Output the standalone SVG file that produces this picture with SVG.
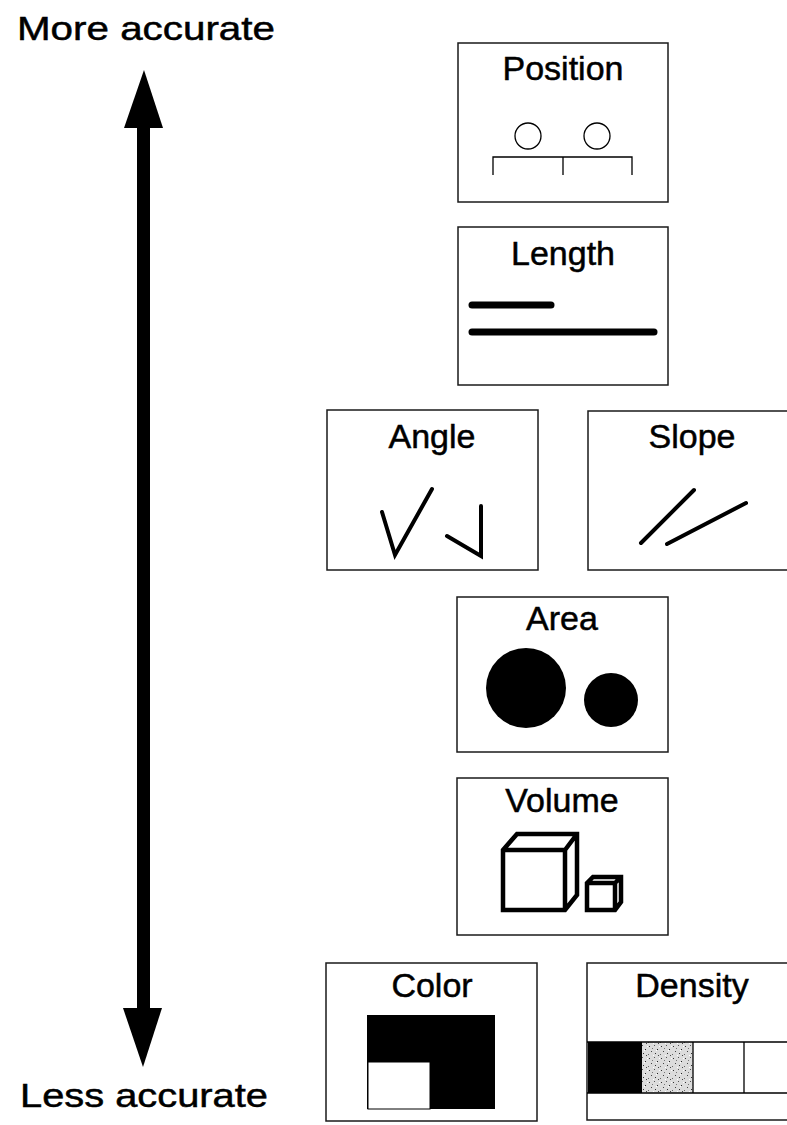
<svg xmlns="http://www.w3.org/2000/svg" width="787" height="1125" viewBox="0 0 787 1125">
<style>
.box{fill:#fff;stroke:#1a1a1a;stroke-width:1.5}
.lbl{font-family:"Liberation Sans",Arial,sans-serif;font-size:34px;fill:#000;stroke:#000;stroke-width:0.5;text-anchor:middle}
.side{font-family:"Liberation Sans",Arial,sans-serif;font-size:34px;fill:#000;stroke:#000;stroke-width:0.5}
.thin{fill:none;stroke:#000;stroke-width:1.3}
.ln{fill:none;stroke:#000;stroke-width:4;stroke-linecap:round;stroke-linejoin:miter}
.cube{fill:#fff;stroke:#000;stroke-width:4.5;stroke-linejoin:miter}
</style>
<defs>
<pattern id="stip" width="12" height="12" patternUnits="userSpaceOnUse">
<rect width="12" height="12" fill="#dcdcdc"/>
<rect x="1" y="2" width="1" height="1" fill="#333"/>
<rect x="6" y="1" width="1" height="1" fill="#555"/>
<rect x="9" y="5" width="1" height="1" fill="#222"/>
<rect x="3" y="7" width="1" height="1" fill="#444"/>
<rect x="7" y="9" width="1" height="1" fill="#333"/>
<rect x="0" y="10" width="1" height="1" fill="#666"/>
<rect x="10" y="11" width="1" height="1" fill="#444"/>
<rect x="4" y="4" width="1" height="1" fill="#777"/>
<rect x="11" y="2" width="1" height="1" fill="#fff"/>
<rect x="5" y="11" width="1" height="1" fill="#fff"/>
<rect x="8" y="6" width="1" height="1" fill="#fff"/>
</pattern>
</defs>
<rect width="787" height="1125" fill="#fff"/>

<g id="scale">
<text class="side" x="17" y="40" textLength="258" lengthAdjust="spacingAndGlyphs">More accurate</text>
<text class="side" x="20" y="1107" textLength="248" lengthAdjust="spacingAndGlyphs">Less accurate</text>
</g>

<g id="connectors">
<rect x="137" y="126" width="13" height="884" fill="#000"/>
<polygon points="144,70 124,128 163,128" fill="#000"/>
<polygon points="143,1067 123,1008 162,1008" fill="#000"/>
</g>

<g id="position">
<rect class="box" x="458" y="43" width="210" height="159"/>
<text class="lbl" x="563" y="80">Position</text>
<circle class="thin" cx="528" cy="136" r="13"/>
<circle class="thin" cx="597" cy="136" r="13"/>
<path class="thin" d="M493,175 V157 H632 V175 M563,157 V175"/>
</g>

<g id="length">
<rect class="box" x="458" y="227" width="210" height="158"/>
<text class="lbl" x="563" y="265">Length</text>
<line x1="472" y1="305" x2="551" y2="305" stroke="#000" stroke-width="7" stroke-linecap="round"/>
<line x1="472" y1="332" x2="654" y2="332" stroke="#000" stroke-width="7" stroke-linecap="round"/>
</g>

<g id="angle">
<rect class="box" x="327" y="410" width="211" height="160"/>
<text class="lbl" x="432" y="448">Angle</text>
<polyline class="ln" points="382,512 395,555 432,489"/>
<polyline class="ln" points="447,536 481,556 481,506"/>
</g>

<g id="slope">
<rect class="box" x="588" y="411" width="210" height="159"/>
<text class="lbl" x="692" y="448">Slope</text>
<line class="ln" x1="641" y1="543" x2="694" y2="490"/>
<line class="ln" x1="667" y1="544" x2="746" y2="503"/>
</g>

<g id="area">
<rect class="box" x="457" y="597" width="211" height="155"/>
<text class="lbl" x="562" y="630">Area</text>
<circle cx="526" cy="688" r="40" fill="#000"/>
<circle cx="611" cy="700" r="27" fill="#000"/>
</g>

<g id="volume">
<rect class="box" x="457" y="778" width="211" height="157"/>
<text class="lbl" x="562" y="812">Volume</text>
<path class="cube" d="M503,850 L517,834 H577 V895 L565,910 H503 Z M503,850 H565 V910 M565,850 L577,834"/>
<path class="cube" d="M587,883 L593,877 H621 V902 L615,910 H587 Z M587,883 H615 V910 M615,883 L621,877"/>
</g>

<g id="color">
<rect class="box" x="326" y="963" width="211" height="158"/>
<text class="lbl" x="432" y="997">Color</text>
<rect x="367" y="1015" width="128" height="94" fill="#000"/>
<rect x="368" y="1062" width="62" height="47" fill="#fff" stroke="#000" stroke-width="1"/>
</g>

<g id="density">
<rect class="box" x="587" y="963" width="220" height="157"/>
<text class="lbl" x="692" y="997">Density</text>
<rect x="588" y="1042" width="54" height="51" fill="#000"/>
<rect x="642" y="1042" width="51" height="51" fill="url(#stip)"/>
<path class="thin" d="M587,1042 H787 M587,1093 H787 M693,1042 V1093 M744,1042 V1093"/>
</g>
</svg>
